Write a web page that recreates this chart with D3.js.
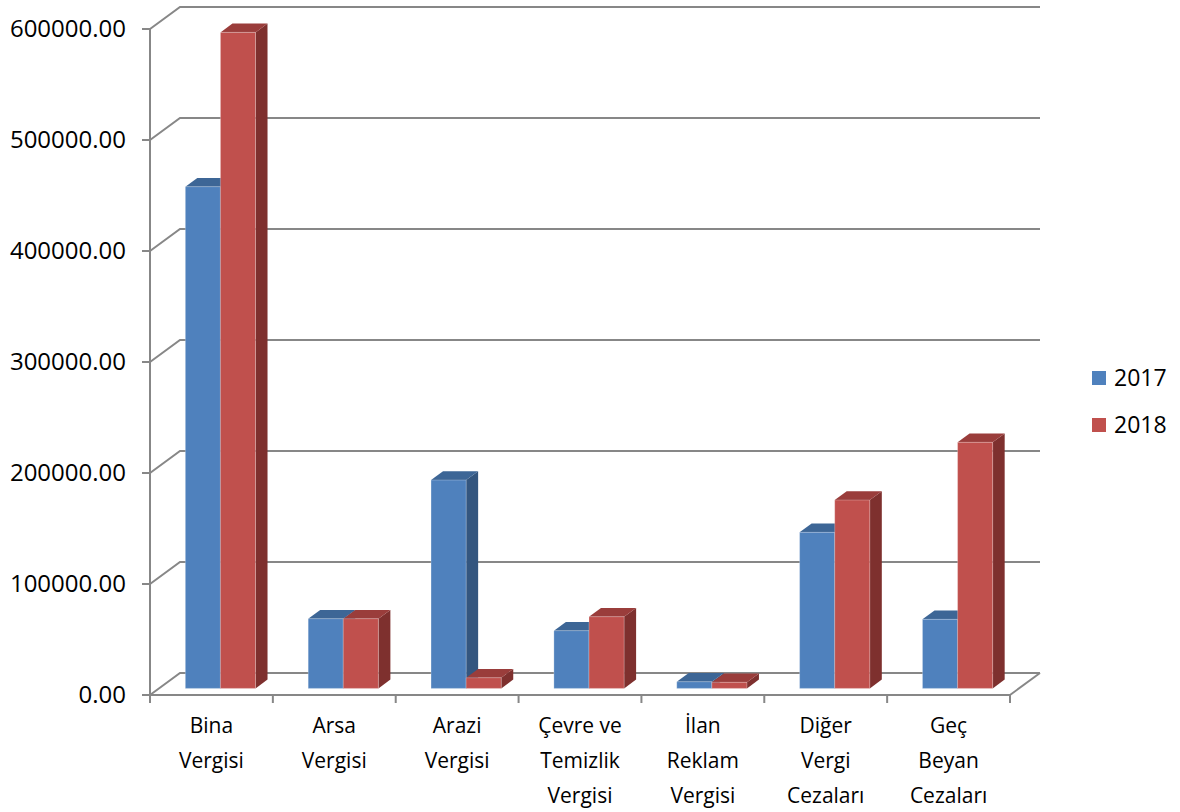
<!DOCTYPE html>
<html>
<head>
<meta charset="utf-8">
<script src="https://cdn.jsdelivr.net/npm/d3@7"></script>
<style>
  html, body { margin: 0; padding: 0; background: #ffffff; }
  svg { display: block; }
</style>
</head>
<body>
<svg id="chart" width="1180" height="812"></svg>
<script>
// Tax revenue by type, 2017 vs 2018
const categories = ["Bina Vergisi", "Arsa Vergisi", "Arazi Vergisi", "Çevre ve Temizlik Vergisi",
                    "İlan Reklam Vergisi", "Diğer Vergi Cezaları", "Geç Beyan Cezaları"];
const categoryLines = [["Bina", "Vergisi"], ["Arsa", "Vergisi"], ["Arazi", "Vergisi"],
                       ["Çevre ve", "Temizlik", "Vergisi"], ["İlan", "Reklam", "Vergisi"],
                       ["Diğer", "Vergi", "Cezaları"], ["Geç", "Beyan", "Cezaları"]];
const seriesNames = ["2017", "2018"];
const values2017 = [452000, 62800, 187700, 52000, 6000, 140600, 62200];
const values2018 = [591000, 62800, 9600, 64600, 5500, 169700, 221700];
const yTicks = [0, 100000, 200000, 300000, 400000, 500000, 600000];

const palette = {
  "2017": { front: "#4F81BD", top: "#3D6696", side: "#34567F" },
  "2018": { front: "#C0504D", top: "#9A3D3B", side: "#7E302E" }
};

const svg = d3.select("#chart");
const font = "'Open Sans', 'Liberation Sans', sans-serif";

// Oblique depth offset of the plot box (front plane -> back wall)
const DX = 30, DY = -22;
const left = 150, right = 1010;

const x = d3.scaleBand().domain(categories).range([left, right]).paddingInner(0).paddingOuter(0);
const gapRatio = 1.5;
const barW = x.bandwidth() / (seriesNames.length + gapRatio);
const xs = d3.scaleBand().domain(seriesNames)
  .range([barW * gapRatio / 2, barW * gapRatio / 2 + barW * seriesNames.length]);
const y = d3.scaleLinear().domain([0, 600000]).range([695, 29]);

const P = (px, py, t) => [px + DX * t, py + DY * t];
const poly = pts => "M" + pts.map(p => p.join(",")).join("L") + "Z";
const gridColor = "#878787";

// Back wall gridlines and their diagonals to the front axis
const grid = svg.append("g");
yTicks.forEach(v => {
  const a = P(left, y(v), 0), b = P(left, y(v), 1), c = P(right, y(v), 1);
  grid.append("path")
    .attr("d", `M${a}L${b}L${c}`)
    .attr("fill", "none").attr("stroke", gridColor).attr("stroke-width", 2);
});
// Floor right edge
{
  const a = P(right, y(0), 0), b = P(right, y(0), 1);
  grid.append("path").attr("d", `M${a}L${b}`)
    .attr("stroke", gridColor).attr("stroke-width", 2);
}

// 3D bars: front face at depth 0.3, back at 0.7
const t0 = 0.3, t1 = 0.7;
const bars = svg.append("g");
categories.forEach((cat, i) => {
  const vals = { "2017": values2017[i], "2018": values2018[i] };
  seriesNames.forEach(s => {
    const x0 = x(cat) + xs(s), x1 = x0 + barW;
    const yb = y(0), yt = y(vals[s]);
    const col = palette[s];
    const front = [P(x0, yb, t0), P(x1, yb, t0), P(x1, yt, t0), P(x0, yt, t0)];
    const top = [P(x0, yt, t0), P(x1, yt, t0), P(x1, yt, t1), P(x0, yt, t1)];
    const side = [P(x1, yb, t0), P(x1, yb, t1), P(x1, yt, t1), P(x1, yt, t0)];
    bars.append("path").attr("d", poly(side)).attr("fill", col.side);
    bars.append("path").attr("d", poly(top)).attr("fill", col.top);
    bars.append("path").attr("d", poly(front)).attr("fill", col.front)
      .attr("stroke", "rgba(255,255,255,0.25)").attr("stroke-width", 1);
  });
});

// Front value axis
const axisG = svg.append("g");
axisG.append("line")
  .attr("x1", left).attr("x2", left).attr("y1", y(600000)).attr("y2", y(0) + 1)
  .attr("stroke", gridColor).attr("stroke-width", 2);
yTicks.forEach(v => {
  axisG.append("line").attr("x1", left - 8).attr("x2", left)
    .attr("y1", y(v)).attr("y2", y(v)).attr("stroke", gridColor).attr("stroke-width", 2);
  axisG.append("text")
    .attr("x", 126).attr("y", y(v)).attr("dy", "0.35em")
    .attr("text-anchor", "end")
    .attr("font-family", font).attr("font-size", 24).attr("fill", "#000")
    .text(d3.format(".2f")(v));
});

// Front category axis (floor front edge)
axisG.append("line")
  .attr("x1", left).attr("x2", right).attr("y1", y(0)).attr("y2", y(0))
  .attr("stroke", gridColor).attr("stroke-width", 2);
const bounds = categories.map(c => x(c)).concat([right]);
bounds.forEach(bx => {
  axisG.append("line").attr("x1", bx).attr("x2", bx)
    .attr("y1", y(0)).attr("y2", y(0) + 8)
    .attr("stroke", gridColor).attr("stroke-width", 2);
});
categories.forEach((cat, i) => {
  const cx = x(cat) + x.bandwidth() / 2;
  const txt = axisG.append("text")
    .attr("text-anchor", "middle")
    .attr("font-family", font).attr("font-size", 21).attr("fill", "#000");
  categoryLines[i].forEach((ln, k) => {
    txt.append("tspan").attr("x", cx).attr("y", 733 + k * 35).text(ln);
  });
});

// Legend
const legend = svg.append("g");
seriesNames.forEach((s, k) => {
  const ly = 378 + k * 47;
  legend.append("rect").attr("x", 1092).attr("y", ly - 7).attr("width", 14).attr("height", 14)
    .attr("fill", palette[s].front);
  legend.append("text").attr("x", 1114).attr("y", ly).attr("dy", "0.35em")
    .attr("font-family", font).attr("font-size", 23).attr("fill", "#000")
    .text(s);
});
</script>
</body>
</html>
